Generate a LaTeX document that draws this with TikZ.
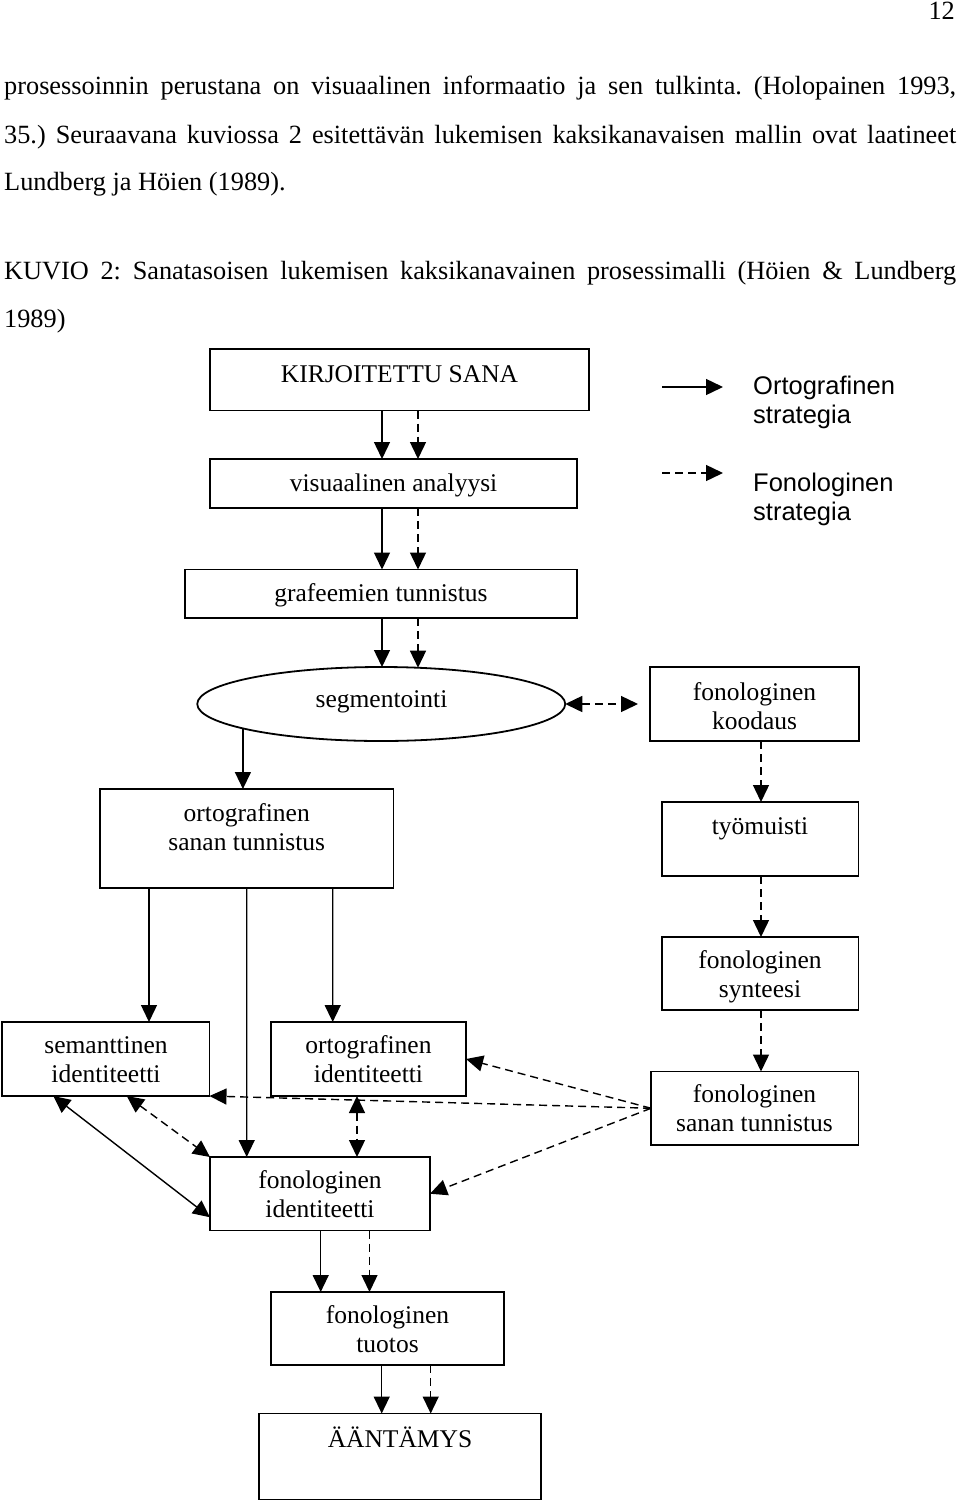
\documentclass[tikz,border=0pt]{standalone}
\usepackage{fontspec}
\setmainfont{Liberation Serif}
\setsansfont{Liberation Sans}
\usetikzlibrary{arrows.meta,shapes.geometric}
\frenchspacing
\newcommand{\tl}[1]{\begin{tabular}[t]{@{}c@{}}#1\end{tabular}}
\newcommand{\tll}[1]{\begin{tabular}[t]{@{}l@{}}#1\end{tabular}}
\newcommand{\bx}[5]{\node[box, minimum width={(#4-#2)*1pt}, minimum height={(#5-#3)*1pt}] (#1) at ({(#2+#4)/2},{(#3+#5)/2}) {};}
\begin{document}
\begin{tikzpicture}[x=1pt,y=-1pt,
  box/.style={draw, line width=1.8pt, inner sep=0pt, outer sep=0pt},
  lbl/.style={font=\fontsize{25.5}{29.3}\selectfont, anchor=base, inner sep=0pt},
  lgd/.style={font=\sffamily\fontsize{25.5}{29}\selectfont, anchor=base west, inner sep=0pt},
  body/.style={font=\fontsize{26.3}{30}\selectfont, anchor=base west, inner sep=0pt},
  ar/.style={line width=1.4pt, -{Triangle[length=17pt,width=16pt]}},
  ar2/.style={line width=1.4pt, {Triangle[length=17pt,width=16pt]}-{Triangle[length=17pt,width=16pt]}},
  dsh/.style={dash pattern=on 8pt off 5pt}]
\useasboundingbox (0,0) rectangle (960,1504);

% page text
\node[body, anchor=base east] (pg) at (955,20) {12};
\node[body] (p1) at (4,95) {\makebox[952pt][s]{prosessoinnin perustana on visuaalinen informaatio ja sen tulkinta. (Holopainen 1993,}};
\node[body] (p2) at (4,143) {\makebox[952pt][s]{35.) Seuraavana kuviossa 2 esitettävän lukemisen kaksikanavaisen mallin ovat laatineet}};
\node[body] (p3) at (4,190.5) {Lundberg ja Höien (1989).};
\node[body] (k1) at (4,279.5) {\makebox[952pt][s]{KUVIO 2: Sanatasoisen lukemisen kaksikanavainen prosessimalli (Höien \& Lundberg}};
\node[body] (k2) at (4,327.5) {1989)};

% boxes
\bx{ks}{210}{349}{589}{410.5}
\bx{va}{210}{459}{577}{508}
\bx{gt}{185}{569.5}{577}{618}
\node[draw, ellipse, line width=1.8pt, inner sep=0pt, outer sep=0pt, minimum width=368pt, minimum height=74pt] (seg) at (381.25,704) {};
\bx{fk}{650}{667}{859}{741}
\bx{ost}{100}{789}{393.5}{888}
\bx{tm}{662}{802}{858.5}{876}
\bx{fs}{662}{937}{858.5}{1010}
\bx{fst}{651}{1071.5}{858.5}{1145}
\bx{si}{2}{1022}{209.5}{1096}
\bx{oi}{271}{1022}{466}{1096}
\bx{fi}{210}{1157}{430}{1230.5}
\bx{ft}{271}{1292}{504}{1365}
\bx{aa}{259}{1413.5}{541}{1499.5}

% texts
\node[lbl] (tks) at (399.5,382) {KIRJOITETTU SANA};
\node[lbl] (tva) at (393.5,491.5) {visuaalinen analyysi};
\node[lbl] (tgt) at (381,601.5) {grafeemien tunnistus};
\node[lbl] (tseg) at (381.5,707.5) {segmentointi};
\node[lbl] (tfk) at (754.5,700) {\tl{fonologinen\\koodaus}};
\node[lbl] (tost) at (246.75,821.5) {\tl{ortografinen\\sanan tunnistus}};
\node[lbl] (ttm) at (760,834) {työmuisti};
\node[lbl] (tfs) at (760,968.5) {\tl{fonologinen\\synteesi}};
\node[lbl] (tfst) at (754.5,1102.5) {\tl{fonologinen\\sanan tunnistus}};
\node[lbl] (tsi) at (106,1053.5) {\tl{semanttinen\\identiteetti}};
\node[lbl] (toi) at (368.5,1053.5) {\tl{ortografinen\\identiteetti}};
\node[lbl] (tfi) at (320,1188) {\tl{fonologinen\\identiteetti}};
\node[lbl] (tft) at (387.5,1323) {\tl{fonologinen\\tuotos}};
\node[lbl] (taa) at (400,1447) {ÄÄNTÄMYS};

% legend
\coordinate (l1a) at (662,387);
\coordinate (l1b) at (723,387);
\coordinate (l2a) at (662,473);
\coordinate (l2b) at (723,473);
\draw[ar] (l1a) -- (l1b);
\draw[ar,dsh] (l2a) -- (l2b);
\node[lgd] (lg1) at (753,394) {\tll{Ortografinen\\strategia}};
\node[lgd] (lg2) at (753,491.5) {\tll{Fonologinen\\strategia}};

% vertical flow
\draw[ar] ([xshift=-17.5pt]ks.south) -- ([xshift=-11.5pt]va.north);
\draw[ar,dsh] ([xshift=18.5pt]ks.south) -- ([xshift=24.5pt]va.north);
\draw[ar] ([xshift=-11.5pt]va.south) -- ([xshift=1pt]gt.north);
\draw[ar,dsh] ([xshift=24.5pt]va.south) -- ([xshift=37pt]gt.north);
\draw[ar] ([xshift=1pt]gt.south) -- ([xshift=0.75pt]seg.north);
\draw[ar,dsh] ([xshift=37pt]gt.south) -- ([xshift=36.75pt,yshift=-0.7pt]seg.north);
\draw[ar] (seg.190.8) -- (seg.190.8 |- ost.north);
\draw[ar2,dsh,shorten >=12pt] (seg.east) -- (fk.west);

% phonological route
\draw[ar,dsh] ([xshift=6.5pt]fk.south) -- ([xshift=0.75pt]tm.north);
\draw[ar,dsh] ([xshift=0.75pt]tm.south) -- ([xshift=0.75pt]fs.north);
\draw[ar,dsh] ([xshift=0.75pt]fs.south) -- ([xshift=6.25pt]fst.north);

% from orthographic word recognition
\draw[ar] ([xshift=-97.75pt]ost.south) -- ([xshift=43.25pt]si.north);
\draw[ar] (ost.south) -- ([xshift=-73.3pt]fi.north);
\draw[ar] ([xshift=86pt]ost.south) -- ([xshift=-35.8pt]oi.north);

% from phonological word recognition
\draw[ar,dsh] (fst.west) -- (oi.east);
\draw[ar,dsh] (fst.west) -- (si.south east);
\draw[ar,dsh] (fst.west) -- (fi.east);

% identities
\draw[ar2,dsh] ([xshift=21pt]si.south) -- (fi.north west);
\draw[ar2] ([xshift=-52.5pt]si.south) -- ([yshift=-23.5pt]fi.west);
\draw[ar2,dsh] ([xshift=-11.5pt]oi.south) -- ([xshift=37pt]fi.north);

% output
\draw[ar] ([xshift=0.7pt]fi.south) -- ([xshift=-66.8pt]ft.north);
\draw[ar,dsh] ([xshift=49.5pt]fi.south) -- ([xshift=-18pt]ft.north);
\draw[ar] ([xshift=-5.8pt]ft.south) -- ([xshift=-18.3pt]aa.north);
\draw[ar,dsh] ([xshift=43.2pt]ft.south) -- ([xshift=30.7pt]aa.north);
\end{tikzpicture}
\end{document}
